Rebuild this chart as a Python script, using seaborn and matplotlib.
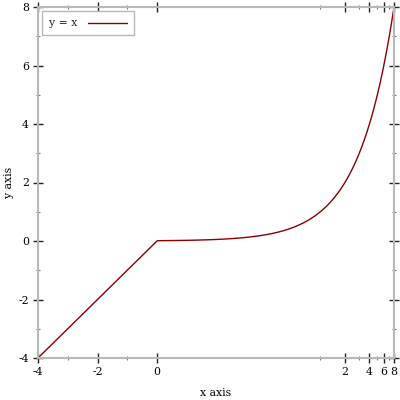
import numpy as np
import matplotlib
matplotlib.use("Agg")
import matplotlib.pyplot as plt
import seaborn as sns

# data: the function y = x, sampled at these x values (y equals x)
x_vals = [-4, -2, 0, 0.01, 0.015, 0.02, 0.03, 0.04, 0.05, 0.065, 0.08, 0.1, 0.12,
          0.15, 0.18, 0.22, 0.26, 0.3, 0.35, 0.4, 0.45, 0.5, 0.56, 0.63, 0.7, 0.78,
          0.86, 0.95, 1.05, 1.15, 1.25, 1.38, 1.5, 1.63, 1.76, 1.9, 2.05, 2.2,
          2.35, 2.5, 2.7, 2.9, 3.1, 3.3, 3.5, 3.75, 4, 4.25, 4.5, 4.75, 5, 5.3,
          5.6, 5.9, 6.2, 6.5, 6.8, 7.1, 7.4, 7.7, 8]
y_vals = [-4, -2, 0, 0.01, 0.015, 0.02, 0.03, 0.04, 0.05, 0.065, 0.08, 0.1, 0.12,
          0.15, 0.18, 0.22, 0.26, 0.3, 0.35, 0.4, 0.45, 0.5, 0.56, 0.63, 0.7, 0.78,
          0.86, 0.95, 1.05, 1.15, 1.25, 1.38, 1.5, 1.63, 1.76, 1.9, 2.05, 2.2,
          2.35, 2.5, 2.7, 2.9, 3.1, 3.3, 3.5, 3.75, 4, 4.25, 4.5, 4.75, 5, 5.3,
          5.6, 5.9, 6.2, 6.5, 6.8, 7.1, 7.4, 7.7, 8]
series_label = "y = x"
x_major = [-4, -2, 0, 2, 4, 6, 8]
x_minor = [-3, -1, 1, 3, 5, 7]
y_major = [-4, -2, 0, 2, 4, 6, 8]
y_minor = [-3, -1, 1, 3, 5, 7]

sns.set_theme(style="white")
plt.rcParams['font.family'] = ['DejaVu Serif']

MID = 0.01
S = 1.19

def fwd(x):
    x = np.asarray(x, dtype=float)
    with np.errstate(divide="ignore", invalid="ignore"):
        lg = MID + S * np.log(np.maximum(x, 1e-300) / MID)
    return np.where(x <= MID, x, lg)

def inv(t):
    t = np.asarray(t, dtype=float)
    with np.errstate(over="ignore", invalid="ignore"):
        ex = MID * np.exp((t - MID) / S)
    return np.where(t <= MID, t, ex)

fig = plt.figure(figsize=(4, 4), dpi=100)
ax = fig.add_axes([38/400, 42/400, 356/400, 351/400])
ax.set_xscale("function", functions=(fwd, inv))

sns.lineplot(x=x_vals, y=y_vals, sort=False, color="#8B0000", linewidth=1.0,
             label=series_label, ax=ax, estimator=None)

ax.set_xlim(-4, 8)
ax.set_ylim(-4, 8)
ax.set_xticks(x_major)
ax.set_xticks(x_minor, minor=True)
ax.set_yticks(y_major)
ax.set_yticks(y_minor, minor=True)
ax.set_xticklabels([str(v) for v in x_major])
ax.set_yticklabels([str(v) for v in y_major])

for sp in ax.spines.values():
    sp.set_color("#b8b8b8")
    sp.set_linewidth(1.5)

ax.tick_params(which="major", direction="inout", length=7, width=1, color="#222222",
               top=True, right=True, labelsize=7.8, pad=3, labelcolor="black")
ax.tick_params(which="minor", direction="inout", length=3.5, width=0.8, color="#777777",
               top=True, right=True)
ax.tick_params(axis="x", which="both", bottom=True)
ax.tick_params(axis="y", which="both", left=True)

ax.set_xlabel("x axis", fontsize=7.8, labelpad=8, color="black")
ax.set_ylabel("y axis", fontsize=7.8, labelpad=3, color="black")

leg = ax.legend(loc="upper left", markerfirst=False, fontsize=7.8, frameon=True,
                fancybox=False, framealpha=1, edgecolor="#b8b8b8", handlelength=3.6,
                borderaxespad=0.4, borderpad=0.65, handletextpad=0.9)
leg.get_frame().set_linewidth(1.0)

ax.grid(False)
fig.savefig("out.png", dpi=100)
